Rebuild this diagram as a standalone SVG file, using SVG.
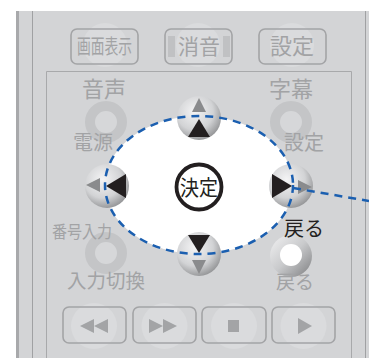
<svg xmlns="http://www.w3.org/2000/svg" width="369" height="358" viewBox="0 0 369 358">
<defs>
<radialGradient id="btn" cx="0.4" cy="0.35" r="0.7">
<stop offset="0" stop-color="#f4f4f5"/>
<stop offset="0.6" stop-color="#d2d3d5"/>
<stop offset="1" stop-color="#8f9092"/>
</radialGradient>
<linearGradient id="ring" x1="0" y1="0" x2="1" y2="1">
<stop offset="0" stop-color="#f2f2f3"/>
<stop offset="0.5" stop-color="#c9cacc"/>
<stop offset="1" stop-color="#7d7e80"/>
</linearGradient>
<style>
.t{font-family:"Noto Sans CJK JP","Noto Sans",sans-serif;fill:#a2a3a5;}
.k{font-family:"Noto Sans CJK JP","Noto Sans",sans-serif;fill:#231f20;}
.rb{fill:none;stroke:#a3a4a6;stroke-width:1.6;}
.halo{fill:#dadbdd;}
.ring{fill:#d6d7d9;stroke:#c4c5c7;stroke-width:10;}
.gtri{fill:#8a8b8d;}
.btri{fill:#231f20;}
.ic{fill:#a3a4a6;}
.dpad{fill:url(#btn);}
.dash{fill:none;stroke:#1b5fb0;stroke-width:2.5;stroke-dasharray:8 6;}
</style>
</defs>
<rect width="369" height="358" fill="#ffffff"/>
<g id="body">
<rect x="16" y="11" width="353" height="347" fill="#d3d4d6"/>
<rect x="16" y="11" width="3" height="347" fill="#a8a9ab"/>
<line x1="32.5" y1="11" x2="32.5" y2="358" stroke="#a0a1a3" stroke-width="1"/>
<line x1="365.5" y1="11" x2="365.5" y2="358" stroke="#a0a1a3" stroke-width="1"/>
<path d="M46.5 358 V71.5 H351.5 V358" fill="none" stroke="#a8a9ab" stroke-width="1"/>
</g>
<g id="btn-gamen">
<circle class="halo" cx="105" cy="45" r="22"/>
<rect class="rb" x="71" y="29" width="67" height="35" rx="6"/>
<text class="t" x="77" y="54" font-size="20" textLength="55" lengthAdjust="spacingAndGlyphs">画面表示</text>
</g>
<g id="btn-shouon">
<circle class="halo" cx="198" cy="45" r="22"/>
<rect x="168" y="36" width="7" height="21" fill="#c0c1c3"/>
<rect x="223" y="36" width="7" height="21" fill="#c0c1c3"/>
<rect class="rb" x="165" y="29" width="67" height="35" rx="6"/>
<text class="t" x="178" y="54" font-size="21">消音</text>
</g>
<g id="btn-settei-top">
<circle class="halo" cx="292" cy="45" r="22"/>
<rect class="rb" x="259" y="29" width="67" height="35" rx="6"/>
<text class="t" x="270" y="54" font-size="22">設定</text>
</g>
<g id="btn-onsei">
<circle class="ring" cx="106" cy="122" r="16"/>
<text class="t" x="82" y="97" font-size="22">音声</text>
<text class="t" x="73" y="150" font-size="20">電源</text>
</g>
<g id="btn-jimaku">
<circle class="ring" cx="291" cy="122" r="16"/>
<text class="t" x="269" y="97" font-size="22">字幕</text>
<text class="t" x="284" y="150" font-size="20">設定</text>
</g>
<g id="btn-bangou">
<circle class="ring" cx="106" cy="253" r="16"/>
<text class="t" x="52" y="238" font-size="17" textLength="60" lengthAdjust="spacingAndGlyphs">番号入力</text>
<text class="t" x="67" y="288" font-size="19.5">入力切換</text>
</g>
<g id="btn-modoru">
<circle cx="291" cy="256" r="21" fill="url(#ring)"/>
<circle cx="291" cy="255" r="11" fill="#ffffff"/>
<text class="t" x="276" y="289" font-size="19">戻る</text>
</g>
<g id="dpad">
<ellipse cx="199" cy="185" rx="94" ry="69" fill="#ffffff"/>
<g id="btn-up">
<circle class="dpad" cx="199" cy="118" r="22"/>
<polygon class="gtri" points="199,98 206,112 192,112"/>
<polygon class="btri" points="199,119 210,137 188,137"/>
</g>
<g id="btn-down">
<circle class="dpad" cx="199" cy="254" r="22"/>
<polygon class="gtri" points="199,274 206,260 192,260"/>
<polygon class="btri" points="199,253 210,235 188,235"/>
</g>
<g id="btn-left">
<circle class="dpad" cx="107" cy="186" r="22"/>
<polygon class="gtri" points="86,185 100,178 100,192"/>
<polygon class="btri" points="106,186 126,174 126,198"/>
</g>
<g id="btn-right">
<circle class="dpad" cx="291" cy="186" r="22"/>
<polygon class="gtri" points="312,187 298,180 298,194"/>
<polygon class="btri" points="292,186 272,174 272,198"/>
</g>
<g id="btn-kettei">
<circle cx="199" cy="187" r="22.5" fill="#ffffff" stroke="#231f20" stroke-width="3.8"/>
<text class="k" x="199" y="195" font-size="21" text-anchor="middle" textLength="38" lengthAdjust="spacingAndGlyphs">決定</text>
</g>
<text class="k" x="284" y="236" font-size="20">戻る</text>
</g>
<g id="btn-rew">
<circle class="halo" cx="94" cy="326" r="23"/>
<rect class="rb" x="63" y="307" width="63" height="36" rx="6"/>
<polygon class="ic" points="80,326 94,319 94,333"/>
<polygon class="ic" points="94,326 108,319 108,333"/>
</g>
<g id="btn-ff">
<circle class="halo" cx="164.5" cy="326" r="23"/>
<rect class="rb" x="133" y="307" width="63" height="36" rx="6"/>
<polygon class="ic" points="149,319 163,326 149,333"/>
<polygon class="ic" points="163,319 177,326 163,333"/>
</g>
<g id="btn-stop">
<circle class="halo" cx="234" cy="326" r="23"/>
<rect class="rb" x="202" y="307" width="64" height="36" rx="6"/>
<rect class="ic" x="228" y="320" width="11" height="12"/>
</g>
<g id="btn-play">
<circle class="halo" cx="303.5" cy="326" r="23"/>
<rect class="rb" x="272" y="307" width="63" height="36" rx="6"/>
<polygon class="ic" points="298,318 312,326 298,334"/>
</g>
<g id="connectors">
<ellipse class="dash" cx="199" cy="185" rx="94" ry="69"/>
<line class="dash" x1="293" y1="188" x2="369" y2="201"/>
</g>
</svg>
